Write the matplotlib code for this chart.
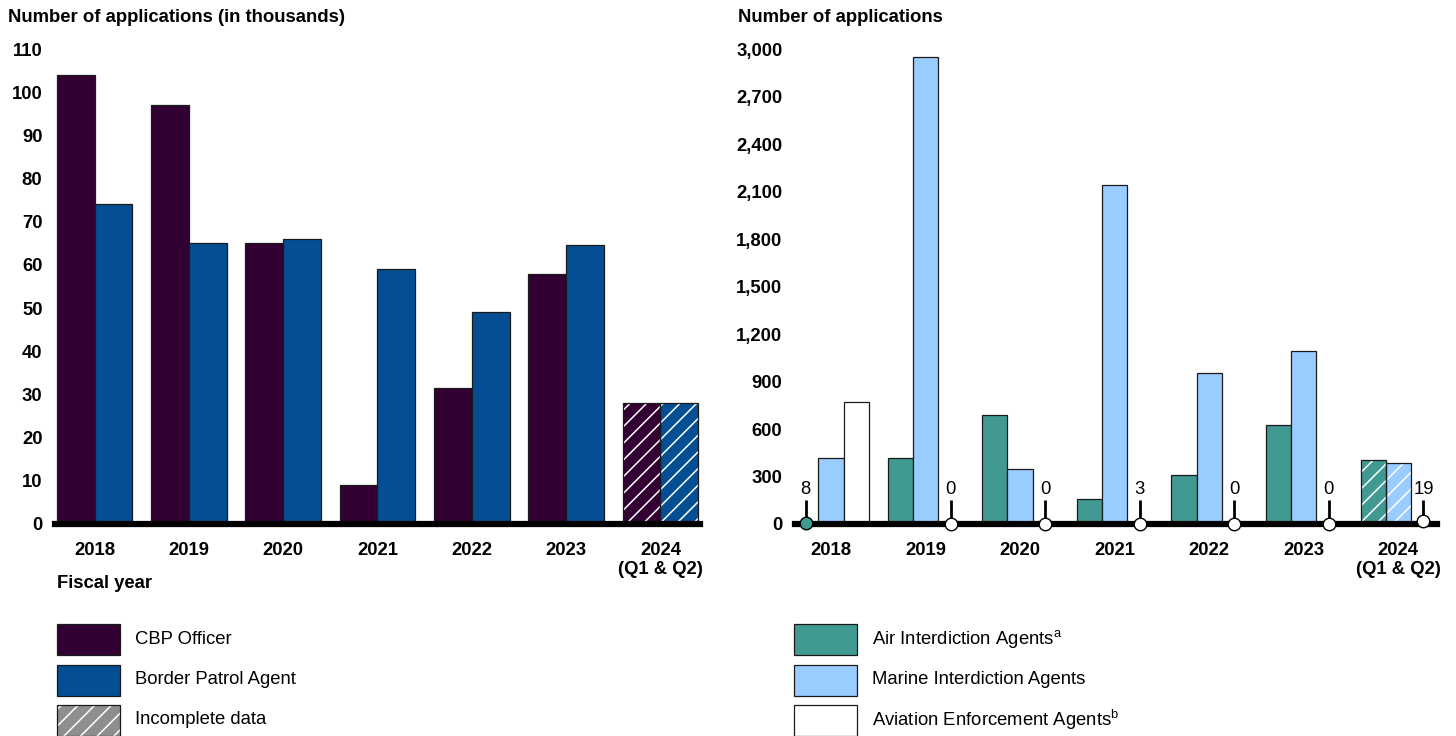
import numpy as np
import matplotlib
matplotlib.use("Agg")
import matplotlib.pyplot as plt
from matplotlib.patches import Rectangle
from matplotlib.ticker import FuncFormatter

plt.rcParams['font.family'] = ['Liberation Sans', 'DejaVu Sans']
plt.rcParams['font.size'] = 13.3
plt.rcParams['mathtext.fontset'] = 'custom'
plt.rcParams['mathtext.rm'] = 'Liberation Sans'
plt.rcParams['hatch.linewidth'] = 1.1

# ---------------------------------------------------------------
# data
# ---------------------------------------------------------------
years = ["2018", "2019", "2020", "2021", "2022", "2023", "2024\n(Q1 & Q2)"]

# left panel, thousands of applications
cbp_officer = [104, 97, 65, 9, 31.5, 58, 28]
border_patrol = [74, 65, 66, 59, 49, 64.5, 28]

# right panel, number of applications
air_interdiction = [8, 415, 690, 160, 310, 625, 405]
marine_interdiction = [420, 2950, 350, 2140, 955, 1090, 385]
aviation_enforcement = [770, 0, 0, 3, 0, 0, 19]

incomplete = [False, False, False, False, False, False, True]

# colours
c_cbp = "#330033"
c_bpa = "#044F93"
c_air = "#409A92"
c_marine = "#99CCFF"
c_aviation = "#FFFFFF"
c_edge = "#1a1a1a"

W, H = 1456, 736
fig = plt.figure(figsize=(W / 100, H / 100), dpi=100)


def px_axes(x0, x1, ytop, ybot):
    return fig.add_axes([x0 / W, 1 - ybot / H, (x1 - x0) / W, (ybot - ytop) / H])


def draw_bars(ax, x, vals, width, color):
    for xi, v, inc in zip(x, vals, incomplete):
        if inc:
            ax.bar(xi, v, width, color=color, edgecolor="white", hatch="//",
                   linewidth=0, zorder=2)
            ax.bar(xi, v, width, fill=False, edgecolor=c_edge, linewidth=0.9, zorder=3)
        else:
            ax.bar(xi, v, width, color=color, edgecolor=c_edge, linewidth=0.9, zorder=2)


def style_axis(ax, ymax, step, fmt):
    ax.set_ylim(0, ymax)
    ax.set_yticks(np.arange(0, ymax + 1, step))
    ax.yaxis.set_major_formatter(FuncFormatter(fmt))
    for s in ["top", "right", "left"]:
        ax.spines[s].set_visible(False)
    ax.spines["bottom"].set_linewidth(4.5)
    ax.spines["bottom"].set_zorder(4)
    ax.tick_params(axis="both", length=0)
    ax.tick_params(axis="y", pad=9)
    ax.tick_params(axis="x", pad=13)
    ax.set_xticks(np.arange(len(years)))
    ax.set_xticklabels(years, fontweight="bold", linespacing=1.15)
    for lab in ax.get_yticklabels():
        lab.set_fontweight("bold")


# ---------------------------------------------------------------
# left panel
# ---------------------------------------------------------------
ax1 = px_axes(55, 700, 49, 524)
x = np.arange(len(years))
bw = 0.4
draw_bars(ax1, x - bw / 2, cbp_officer, bw, c_cbp)
draw_bars(ax1, x + bw / 2, border_patrol, bw, c_bpa)
ax1.set_xlim(-0.42, 6.42)
style_axis(ax1, 110, 10, lambda v, p: f"{int(v)}")

fig.text(8 / W, 1 - 18 / H, "Number of applications (in thousands)",
         fontweight="bold", ha="left", va="center")
fig.text(57 / W, 1 - 584 / H, "Fiscal year", fontweight="bold", ha="left", va="center")

# ---------------------------------------------------------------
# right panel
# ---------------------------------------------------------------
ax2 = px_axes(795, 1437, 49, 524)
bw2 = 0.266
series = [(air_interdiction, c_air, -bw2),
          (marine_interdiction, c_marine, 0),
          (aviation_enforcement, c_aviation, bw2)]
for vals, col, off in series:
    big = [v if v >= 50 else 0 for v in vals]
    draw_bars(ax2, x + off, big, bw2, col)
    for xi, v in zip(x + off, vals):
        if v < 50:
            ax2.plot([xi, xi], [0, 150], color="black", lw=2, zorder=5,
                     solid_capstyle="butt")
            ax2.plot(xi, v, "o", ms=9, mfc=col, mec="black", mew=1.0,
                     zorder=6, clip_on=False)
            ax2.text(xi, 215, f"{v}", ha="center", va="center")
ax2.set_xlim(-0.38, 6.41)
style_axis(ax2, 3000, 300, lambda v, p: f"{int(v):,}")

fig.text(738 / W, 1 - 18 / H, "Number of applications",
         fontweight="bold", ha="left", va="center")

# ---------------------------------------------------------------
# legends
# ---------------------------------------------------------------
def legend_row(xp, yc, color, label, hatch=None):
    h = 31
    if hatch:
        fig.add_artist(Rectangle((xp / W, 1 - (yc + h / 2) / H), 63 / W, h / H,
                                 transform=fig.transFigure, facecolor=color,
                                 edgecolor="white", hatch=hatch, linewidth=0))
        fig.add_artist(Rectangle((xp / W, 1 - (yc + h / 2) / H), 63 / W, h / H,
                                 transform=fig.transFigure, fill=False,
                                 edgecolor=c_edge, linewidth=0.9))
    else:
        fig.add_artist(Rectangle((xp / W, 1 - (yc + h / 2) / H), 63 / W, h / H,
                                 transform=fig.transFigure, facecolor=color,
                                 edgecolor=c_edge, linewidth=0.9))
    fig.text((xp + 78) / W, 1 - yc / H, label, ha="left", va="center")


legend_row(57, 639, c_cbp, "CBP Officer")
legend_row(57, 680, c_bpa, "Border Patrol Agent")
legend_row(57, 720, "#8E8E8E", "Incomplete data", hatch="//")

legend_row(794, 639, c_air, r"Air Interdiction Agents$^{\mathrm{a}}$")
legend_row(794, 680, c_marine, "Marine Interdiction Agents")
legend_row(794, 720, c_aviation, r"Aviation Enforcement Agents$^{\mathrm{b}}$")

plt.savefig("out.png", dpi=100)
